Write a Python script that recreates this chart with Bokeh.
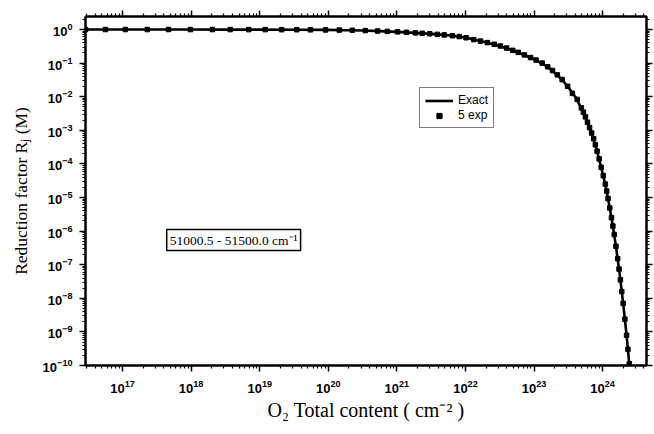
import numpy as np
from bokeh.plotting import figure
from bokeh.models import (LogAxis, Label, Legend, LegendItem, CustomJSTickFormatter,
                          FixedTicker, Range1d, ColumnDataSource)
from bokeh.embed import file_html
from bokeh.resources import INLINE

# ---- data (log10 values) ----
exact_log10_x = [16.46, 17.0, 17.5, 18.0, 18.5, 19.0, 19.5, 20.0, 20.25, 20.5, 20.75,
                 21.0, 21.25, 21.5, 21.75, 22.0, 22.25, 22.5, 22.75, 23.0, 23.2, 23.4,
                 23.5, 23.6, 23.7, 23.8, 23.9, 24.0, 24.05, 24.1, 24.15, 24.2, 24.25,
                 24.3, 24.35, 24.39]
exact_log10_r = [0.0, 0.0, 0.0, -0.001, -0.002, -0.003, -0.006, -0.012, -0.02, -0.03, -0.048,
                 -0.07, -0.10, -0.13, -0.17, -0.24, -0.36, -0.49, -0.67, -0.88, -1.11, -1.47,
                 -1.72, -2.0, -2.38, -2.86, -3.47, -4.27, -4.71, -5.26, -5.85, -6.53, -7.29,
                 -8.15, -9.10, -9.97]

fit_log10_x = [16.46, 16.75, 17.04, 17.36, 17.67, 17.99, 18.31, 18.57, 18.84, 19.08,
               19.32, 19.54, 19.74, 19.96, 20.16, 20.35, 20.54, 20.72, 20.86, 21.01,
               21.14, 21.27, 21.37, 21.48, 21.59, 21.69, 21.81, 21.91, 22.01, 22.12,
               22.22, 22.32, 22.42, 22.51, 22.60, 22.69, 22.77, 22.86, 22.95, 23.03,
               23.12, 23.20, 23.27, 23.34, 23.41, 23.49, 23.56, 23.63, 23.69, 23.72,
               23.75, 23.78, 23.81, 23.84, 23.87, 23.895, 23.92, 23.95, 23.98, 24.01,
               24.04, 24.06, 24.08, 24.105, 24.13, 24.15, 24.17, 24.195, 24.22, 24.24,
               24.26, 24.28, 24.30, 24.325, 24.35, 24.37, 24.39]
fit_log10_r = [0.0, 0.0, 0.0, 0.0, 0.0, -0.001, -0.001, -0.002, -0.003, -0.003,
               -0.005, -0.006, -0.009, -0.012, -0.016, -0.022, -0.032, -0.045, -0.056, -0.07,
               -0.085, -0.10, -0.113, -0.128, -0.145, -0.16, -0.185, -0.21, -0.245, -0.30,
               -0.345, -0.39, -0.44, -0.49, -0.55, -0.62, -0.68, -0.755, -0.835, -0.91,
               -1.00, -1.11, -1.22, -1.35, -1.49, -1.69, -1.90, -2.08, -2.33, -2.46,
               -2.60, -2.76, -2.92, -3.08, -3.25, -3.43, -3.62, -3.85, -4.10, -4.35,
               -4.60, -4.81, -5.03, -5.31, -5.60, -5.85, -6.10, -6.45, -6.82, -7.13,
               -7.45, -7.80, -8.15, -8.62, -9.10, -9.52, -9.95]

series_labels = ["Exact", "5 exp"]
band_text = "51000.5 - 51500.0 cm\u207b\u00b9"
x_decades = list(range(16, 26))
y_decades = list(range(-11, 2))

exact_src = ColumnDataSource(dict(x=10.0 ** np.array(exact_log10_x), y=10.0 ** np.array(exact_log10_r)))
fit_src = ColumnDataSource(dict(x=10.0 ** np.array(fit_log10_x), y=10.0 ** np.array(fit_log10_r)))

p = figure(width=654, height=434, x_axis_type="log", y_axis_type="log",
           x_range=Range1d(2.88e16, 4.37e24), y_range=Range1d(1e-10, 2.44),
           output_backend="svg", toolbar_location=None,
           min_border_left=85, min_border_right=8, min_border_top=16, min_border_bottom=69)
p.xgrid.visible = False
p.ygrid.visible = False
p.outline_line_color = "black"
p.outline_line_width = 2
p.background_fill_color = "white"
p.border_fill_color = "white"

bottom_ax = p.below[0]
left_ax = p.left[0]

xt = FixedTicker(ticks=[10.0 ** k for k in x_decades],
                 minor_ticks=[m * 10.0 ** k for k in x_decades for m in range(2, 10)])
yt = FixedTicker(ticks=[10.0 ** k for k in y_decades],
                 minor_ticks=[m * 10.0 ** k for k in y_decades for m in range(2, 10)])
bottom_ax.ticker = xt
left_ax.ticker = yt

top = LogAxis(ticker=xt, formatter=CustomJSTickFormatter(code="return ''"))
right = LogAxis(ticker=yt, formatter=CustomJSTickFormatter(code="return ''"))
p.add_layout(top, "above")
p.add_layout(right, "right")

for ax in [bottom_ax, left_ax, top, right]:
    ax.axis_line_width = 2
    ax.axis_line_color = "black"
    ax.major_tick_out = 6
    ax.major_tick_in = 0
    ax.minor_tick_out = 3
    ax.minor_tick_in = 0
    ax.major_tick_line_width = 1.5
    ax.minor_tick_line_width = 1.2
    ax.major_tick_line_color = "black"
    ax.minor_tick_line_color = "black"
    ax.major_label_text_font = "Liberation Sans"
    ax.major_label_text_font_size = "13px"
    ax.major_label_text_font_style = "bold"
    ax.major_label_text_color = "black"
for ax in [top, right]:
    ax.major_label_text_font_size = "0px"
    ax.major_label_standoff = 0

bottom_ax.axis_label = "O\u2082 Total content ( cm\u207b\u00b2 )"
left_ax.axis_label = "Reduction factor R\u2c7c (M)"
for ax in [bottom_ax, left_ax]:
    ax.axis_label_text_font = "Liberation Serif"
    ax.axis_label_text_font_style = "normal"
    ax.axis_label_text_color = "black"
bottom_ax.axis_label_text_font_size = "20px"
left_ax.axis_label_text_font_size = "17.5px"
bottom_ax.major_label_standoff = 8
bottom_ax.axis_label_standoff = 3
left_ax.major_label_standoff = 7
left_ax.axis_label_standoff = 9

r_line = p.line("x", "y", source=exact_src, line_color="black", line_width=2.6)
r_dots = p.scatter("x", "y", source=fit_src, marker="square", size=4.5,
                   fill_color="black", line_color="black")

legend = Legend(items=[LegendItem(label=series_labels[0], renderers=[r_line]),
                       LegendItem(label=series_labels[1], renderers=[r_dots])],
                location=(334, 237))
legend.border_line_color = "black"
legend.border_line_width = 1.5
legend.background_fill_color = "white"
legend.label_text_font = "Liberation Sans"
legend.label_text_font_size = "12px"
legend.label_text_color = "black"
legend.glyph_width = 28
legend.glyph_height = 13
legend.label_height = 13
legend.label_standoff = 5
legend.padding = 5
legend.spacing = 1
legend.margin = 0
p.add_layout(legend)

lab = Label(x=4.4e17, y=5.4e-7, text=band_text, text_font="Liberation Serif",
            text_font_size="13.5px", text_baseline="middle", text_color="black",
            border_line_color="black", border_line_width=1.5,
            background_fill_color="white", padding=3)
p.add_layout(lab)

open("out.html", "w").write(file_html(p, INLINE))
